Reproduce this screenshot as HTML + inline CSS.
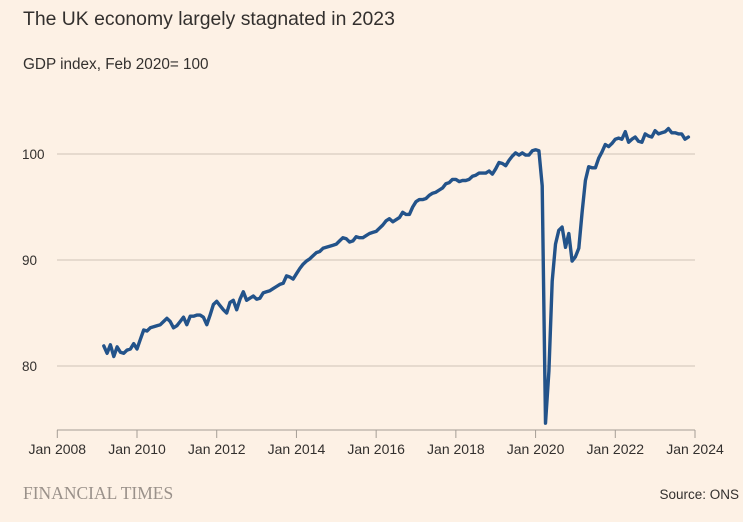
<!DOCTYPE html>
<html><head><meta charset="utf-8"><style>
body{margin:0;background:#fdf1e5;}
svg{display:block;font-family:"Liberation Sans",sans-serif;}
</style></head><body>
<svg id="chart" width="743" height="522" viewBox="0 0 743 522">
<rect width="743" height="522" fill="#fdf1e5"/>
<text x="23" y="25" font-size="19.4" fill="#33302e">The UK economy largely stagnated in 2023</text>
<text x="23" y="69" font-size="15.3" fill="#33302e">GDP index, Feb 2020= 100</text>
<g id="grid"></g><g id="xaxis"></g><g id="series"></g>
<text x="23" y="499" font-size="17.5" fill="#9a918a" font-family="Liberation Serif,serif">FINANCIAL TIMES</text>
<text x="739" y="499" font-size="13.5" fill="#33302e" text-anchor="end">Source: ONS</text>
</svg>
<script>
const yTicks=[80,90,100];
const xTickLabels=["Jan 2008","Jan 2010","Jan 2012","Jan 2014","Jan 2016","Jan 2018","Jan 2020","Jan 2022","Jan 2024"];
const xTickYears=[2008,2010,2012,2014,2016,2018,2020,2022,2024];
const startYear=2009, startMonth=2; // Mar 2009 (0-based month)
const gdp=[
81.9,81.2,82.0,80.9,81.8,81.3,81.2,81.5,81.6,82.1,
81.6,82.5,83.4,83.3,83.6,83.7,83.8,83.9,84.2,84.5,84.2,83.6,
83.8,84.2,84.6,83.9,84.7,84.7,84.8,84.8,84.6,83.9,84.8,85.8,
86.1,85.7,85.3,85.0,86.0,86.2,85.3,86.3,87.0,86.2,86.4,86.6,
86.3,86.4,86.9,87.0,87.1,87.3,87.5,87.7,87.8,88.5,88.4,88.2,
88.7,89.2,89.6,89.9,90.1,90.4,90.7,90.8,91.1,91.2,91.3,91.4,
91.5,91.8,92.1,92.0,91.7,91.8,92.2,92.1,92.1,92.3,92.5,92.6,
92.7,93.0,93.3,93.7,93.9,93.6,93.8,94.0,94.5,94.3,94.3,95.0,
95.5,95.7,95.7,95.8,96.1,96.3,96.4,96.6,96.8,97.2,97.3,97.6,
97.6,97.4,97.5,97.5,97.6,97.9,98.0,98.2,98.2,98.2,98.4,98.1,
98.6,99.2,99.1,98.9,99.4,99.8,100.1,99.9,100.1,99.9,99.9,100.3,
100.4,100.3,97.0,74.6,79.5,88.0,91.5,92.8,93.1,91.2,92.5,89.9,
90.3,91.1,94.5,97.5,98.8,98.7,98.7,99.6,100.2,100.9,100.7,101.0,
101.4,101.5,101.4,102.1,101.1,101.4,101.6,101.2,101.1,101.9,101.7,101.6,
102.2,101.9,102.0,102.1,102.4,102.0,102.0,101.9,101.9,101.4,101.6
];
const NS="http://www.w3.org/2000/svg";
const x0=57.3,x1=695,y0=2008,y1=2024;
const xs=t=>x0+(t-y0)/(y1-y0)*(x1-x0);
const ys=v=>154+(100-v)*10.6;
const grid=document.getElementById('grid');
yTicks.forEach(v=>{
  const l=document.createElementNS(NS,'line');
  l.setAttribute('x1',57);l.setAttribute('x2',695);l.setAttribute('y1',ys(v));l.setAttribute('y2',ys(v));
  l.setAttribute('stroke','#cfc3b7');l.setAttribute('stroke-width','1');
  
  
  grid.appendChild(l);
  const t=document.createElementNS(NS,'text');
  t.setAttribute('x',22);t.setAttribute('y',ys(v)+5);t.setAttribute('font-size','13.5');t.setAttribute('fill','#33302e');
  t.textContent=v;
  
  
  grid.appendChild(t);
});
const xa=document.getElementById('xaxis');
const base=document.createElementNS(NS,'line');
base.setAttribute('x1',57);base.setAttribute('x2',695);base.setAttribute('y1',430);base.setAttribute('y2',430);
base.setAttribute('stroke','#a59d95');base.setAttribute('stroke-width','1');


xa.appendChild(base);
xTickYears.forEach((yr,i)=>{
  const x=xs(yr);
  const tk=document.createElementNS(NS,'line');
  tk.setAttribute('x1',x);tk.setAttribute('x2',x);tk.setAttribute('y1',430);tk.setAttribute('y2',438);
  tk.setAttribute('stroke','#a59d95');
  
  
  xa.appendChild(tk);
  const t=document.createElementNS(NS,'text');
  t.setAttribute('x',x);t.setAttribute('y',454);t.setAttribute('font-size','14');t.setAttribute('fill','#33302e');t.setAttribute('text-anchor','middle');
  t.textContent=xTickLabels[i];
  
  
  xa.appendChild(t);
});
const pts=gdp.map((v,i)=>{const t=startYear+(startMonth+i)/12;return xs(t).toFixed(1)+','+ys(v).toFixed(1);});
const p=document.createElementNS(NS,'polyline');
p.setAttribute('points',pts.join(' '));
p.setAttribute('fill','none');p.setAttribute('stroke','#23538a');p.setAttribute('stroke-width','3.4');
p.setAttribute('stroke-linejoin','round');p.setAttribute('stroke-linecap','round');


document.getElementById('series').appendChild(p);
</script>
</body></html>
